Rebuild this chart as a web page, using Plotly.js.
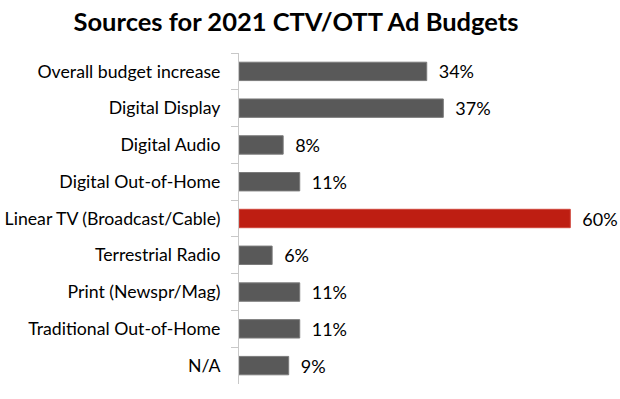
<!DOCTYPE html>
<html>
<head>
<meta charset="utf-8">
<script src="https://cdn.plot.ly/plotly-3.0.1.min.js"></script>
<style>html,body{margin:0;padding:0;background:#fff;}#chart{width:620px;height:399px;}</style>
</head>
<body>
<div id="chart"></div>
<script>
const categories = ["Overall budget increase","Digital Display","Digital Audio","Digital Out-of-Home","Linear TV (Broadcast/Cable)","Terrestrial Radio","Print (Newspr/Mag)","Traditional Out-of-Home","N/A"];
const values = [34, 37, 8, 11, 60, 6, 11, 11, 9];
const labels = ["34%","37%","8%","11%","60%","6%","11%","11%","9%"];
const highlight = "Linear TV (Broadcast/Cable)";

const colors = categories.map(c => c === highlight ? "#BE1E12" : "#595959");
const lineColors = categories.map(c => c === highlight ? "#D0473C" : "#7a7a7a");

const trace = {
  type: "bar",
  orientation: "h",
  y: categories,
  x: values,
  text: labels.map(l => "\u2002" + l),
  textposition: "outside",
  constraintext: "none",
  cliponaxis: false,
  textfont: {family: "Lato, 'Liberation Sans', sans-serif", size: 18, color: "#000"},
  marker: {color: colors, line: {color: lineColors, width: 1}},
  hoverinfo: "none"
};

const layout = {
  width: 620, height: 399,
  margin: {l: 239, r: 0, t: 53, b: 15},
  paper_bgcolor: "#fff", plot_bgcolor: "#fff",
  bargap: 0.5,
  showlegend: false,
  title: {
    text: "<b>Sources for 2021 CTV/OTT Ad Budgets</b>",
    font: {family: "Lato, 'Liberation Sans', sans-serif", size: 25.5, color: "#000"},
    x: 296/620, xanchor: "center", xref: "container",
    y: 1 - 22/399, yanchor: "middle", yref: "container"
  },
  xaxis: {range: [0, 69], visible: false, showgrid: false, zeroline: false, fixedrange: true},
  yaxis: {
    autorange: "reversed",
    type: "category",
    showline: true, linecolor: "#c8c8c8", linewidth: 1,
    ticks: "outside", tickson: "boundaries", ticklen: 7, tickcolor: "#c8c8c8",
    ticklabelstandoff: 14,
    tickfont: {family: "Lato, 'Liberation Sans', sans-serif", size: 17.7, color: "#000"},
    showgrid: false, zeroline: false, fixedrange: true
  }
};

Plotly.newPlot("chart", [trace], layout, {displayModeBar: false, staticPlot: true});
</script>
</body>
</html>
